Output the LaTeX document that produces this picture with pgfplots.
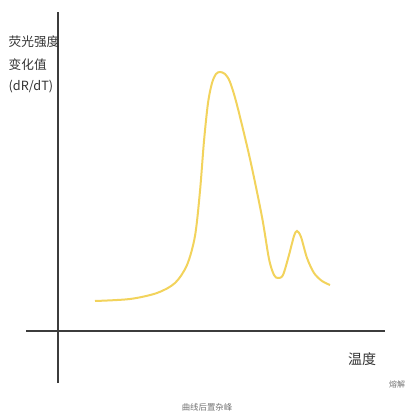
\documentclass[border=0pt]{standalone}
\usepackage{fontspec}
\setmainfont{Noto Sans CJK SC}
\usepackage{pgfplots}
\pgfplotsset{compat=1.18}
\definecolor{curvey}{HTML}{F2D35C}
\definecolor{axisg}{HTML}{3C3C3C}

\begin{document}
\begin{tikzpicture}
  \begin{axis}[
      x=0.75pt, y=0.75pt,
      xmin=-32, xmax=327,
      ymin=-52, ymax=319,
      axis lines=middle,
      axis line style={-, axisg, line width=1.1pt},
      ticks=none,
      clip=false,
    ]
    % melting curve with a trailing side peak
    \addplot [curvey, line width=1.5pt, smooth, tension=0.5] coordinates {
      (37,30) (72,32) (99,38) (117,48) (129,66) (137,95) (142,140)
      (146,190) (150,228) (154,248) (158,257) (162,259) (167,257)
      (172,249) (179,226) (192,172) (204,114) (211,72) (216,56)
      (220,53) (225,56) (231,76) (236,95) (239,100) (243,94)
      (249,73) (256,58) (264,50) (272,46)
    };

    % labels
    \node[anchor=west, font=\fontsize{9.5}{12}\selectfont, text=black!80] at (axis cs:-54,289) {荧光强度};
    \node[anchor=west, font=\fontsize{9.5}{12}\selectfont, text=black!80] at (axis cs:-54,266) {变化值};
    \node[anchor=west, font=\fontsize{9.5}{12}\selectfont, text=black!80] at (axis cs:-54,244) {(dR/dT)};
    \node[font=\fontsize{10.5}{12}\selectfont, text=black!80] at (axis cs:304,-28) {温度};
    \node[font=\fontsize{6}{7}\selectfont, text=black!55] at (axis cs:339,-53) {熔解};
    \node[font=\fontsize{6.3}{7}\selectfont, text=black!55] at (axis cs:149,-76) {曲线后置杂峰};

    % page frame
    \path (axis cs:-58,-89) rectangle (axis cs:362,331);
  \end{axis}
\end{tikzpicture}
\end{document}
